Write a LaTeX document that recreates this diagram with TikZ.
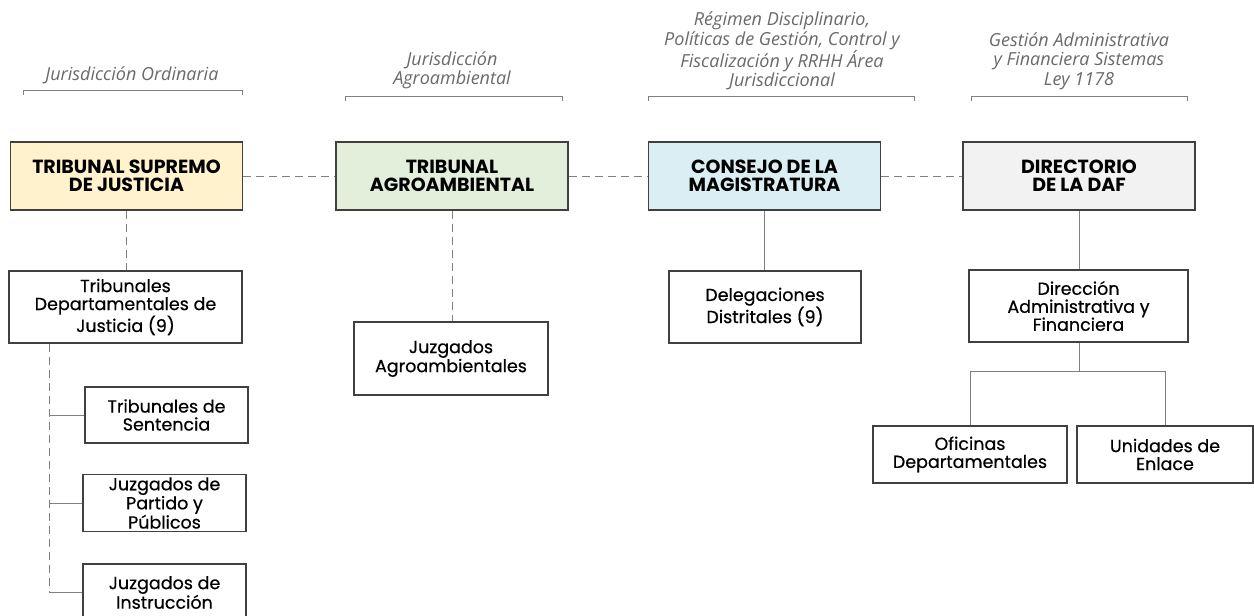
\documentclass[tikz,border=0pt]{standalone}
\usepackage{fontspec}
\setmainfont{Poppins}
\newfontfamily\unitfont{Poppins}[FakeBold=0.5]
\newfontfamily\notefont{Open Sans}
\usetikzlibrary{positioning}

\definecolor{boxline}{HTML}{404040}
\definecolor{linkgray}{HTML}{808080}
\definecolor{notegray}{HTML}{6A6A6A}
\definecolor{fillyellow}{HTML}{FFF2CC}
\definecolor{fillgreen}{HTML}{E2EFDA}
\definecolor{fillblue}{HTML}{DAEEF3}
\definecolor{fillgray}{HTML}{F2F2F2}

\tikzset{
  unit/.style={draw=boxline, line width=1.3pt, align=center, inner sep=0pt,
    font=\unitfont\fontsize{17.5}{18}\selectfont},
  head/.style={unit, minimum width=232pt, minimum height=68pt,
    font=\fontsize{19}{18}\selectfont\bfseries},
  link/.style={draw=linkgray, line width=1pt},
  dlink/.style={link, dash pattern=on 8pt off 5pt},
  juris/.style={text=notegray, align=center,
    font=\notefont\itshape\fontsize{18}{19.3}\selectfont},
  bracket/.style={draw=linkgray, line width=1pt}
}

\begin{document}
\begin{tikzpicture}[x=1pt,y=-1pt]
    \fill[white] (0,0) rectangle (1254,616);
    \clip (0,0) rectangle (1254,616);

    % headers
    \node[juris] (nord) at (132,75) {Jurisdicción Ordinaria};
    \node[juris] (nagr) at (452,70.5) {Jurisdicción\\Agroambiental};
    \node[juris] (nmag) at (782,51) {Régimen Disciplinario,\\Políticas de Gestión, Control y\\Fiscalización y RRHH Área\\Jurisdiccional};
    \node[juris] (ndaf) at (1079,61) {Gestión Administrativa\\y Financiera Sistemas\\Ley 1178};
    \draw[bracket](23,95)--(23,90)--(242,90)--(242,95);
    \draw[bracket](345,101)--(345,96)--(562,96)--(562,101);
    \draw[bracket](648,101)--(648,96)--(914,96)--(914,101);
    \draw[bracket](971,101)--(971,96)--(1187,96)--(1187,101);

    \node[head, fill=fillyellow] (tsj) at (126.5,176) {TRIBUNAL SUPREMO\\DE JUSTICIA};
    \node[head, fill=fillgreen] (tag) at (452,176) {TRIBUNAL\\AGROAMBIENTAL};
    \node[head, fill=fillblue] (cdm) at (764.5,176) {CONSEJO DE LA\\MAGISTRATURA};
    \node[head, fill=fillgray] (daf) at (1079,176) {DIRECTORIO\\DE LA DAF};
    \draw[dlink](tsj)--(tag);
    \draw[dlink](tag)--(cdm);
    \draw[dlink](cdm)--(daf);

    \node[unit, minimum width=233pt, minimum height=72pt] (tdj) at (125.5,307) {Tribunales\\Departamentales de\\Justicia (9)};
    \node[unit, minimum width=163pt, minimum height=56pt] (tse) at (166.5,415) {Tribunales de\\Sentencia};
    \node[unit, minimum width=163pt, minimum height=57pt] (jpp) at (164.5,503) {Juzgados de\\Partido y\\Públicos};
    \node[unit, minimum width=163pt, minimum height=57pt] (jin) at (164.5,592.5) {Juzgados de\\Instrucción};
    \draw[dlink](tsj.south)--(tsj.south |- tdj.north);
    \coordinate (rail) at (49,592.5);
    \draw[dlink](tdj.south -| rail)--(rail);
    \draw[link](rail |- tse.west)--(tse.west);
    \draw[link](rail |- jpp.west)--(jpp.west);
    \draw[link](rail)--(jin.west);

    \node[unit, minimum width=194pt, minimum height=73pt] (jag) at (451,358.5) {Juzgados\\Agroambientales};
    \draw[dlink](tag.south)--(tag.south |- jag.north);

    \node[unit, minimum width=192pt, minimum height=72pt] (ddi) at (765,307) {Delegaciones\\Distritales (9)};
    \draw[link](cdm.south)--(cdm.south |- ddi.north);

    \node[unit, minimum width=219pt, minimum height=72pt] (daf2) at (1078.5,306) {Dirección\\Administrativa y\\Financiera};
    \node[unit, minimum width=194pt, minimum height=57pt] (ofi) at (970,454.5) {Oficinas\\Departamentales};
    \node[unit, minimum width=176pt, minimum height=57pt] (uni) at (1165,454.5) {Unidades de\\Enlace};
    \draw[link](daf.south)--(daf.south |- daf2.north);
    \coordinate (split) at (1079,371);
    \draw[link](daf2.south -| split)--(split);
    \draw[link](ofi.north)--(ofi.north |- split)--(uni.north |- split)--(uni.north);
\end{tikzpicture}
\end{document}
